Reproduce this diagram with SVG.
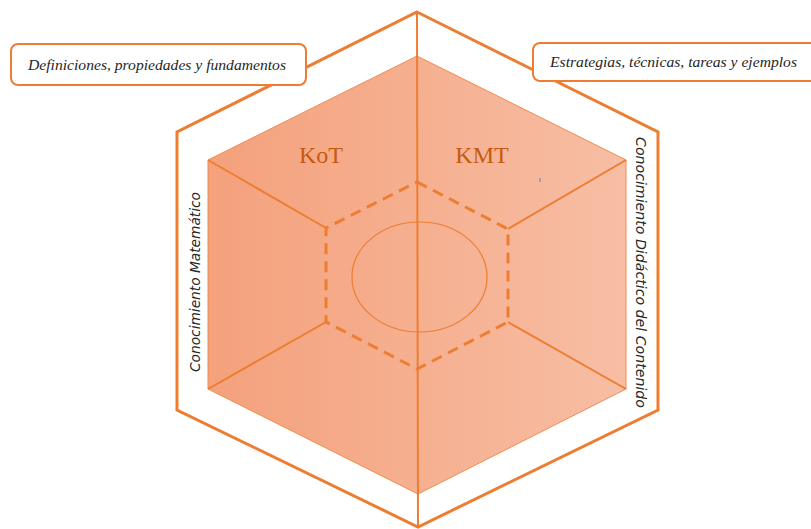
<svg xmlns="http://www.w3.org/2000/svg" width="811" height="529" viewBox="0 0 811 529">
<defs>
<linearGradient id="faceGrad" x1="0" y1="0" x2="1" y2="0">
<stop offset="0" stop-color="#F4A17C"/>
<stop offset="1" stop-color="#F7BEA4"/>
</linearGradient>
<linearGradient id="ellGrad" x1="0" y1="0" x2="0" y2="1">
<stop offset="0" stop-color="#F6B89B"/>
<stop offset="1" stop-color="#F4A07A"/>
</linearGradient>
<style>
.outer{fill:none;stroke:#ED7D31;stroke-width:3;stroke-linejoin:miter}
.edge{fill:none;stroke:#ED7D31;stroke-width:2}
.thin{fill:none;stroke:#ED7D31;stroke-width:1.2}
.dash{fill:none;stroke:#ED7D31;stroke-width:3;stroke-dasharray:11,7}
.box{fill:#FFFFFF;stroke:#ED7D31;stroke-width:2}
.lbl{font-family:"Liberation Serif","DejaVu Serif",serif;font-style:italic;font-size:15px;fill:#262626}
.side{font-family:"DejaVu Sans","Liberation Sans",sans-serif;font-style:italic;font-size:14px;fill:#262626}
.k{font-family:"Liberation Serif","Times New Roman",serif;font-size:24px;fill:#C55A11;text-anchor:middle}
</style>
</defs>
<g id="outer-hexagon">
<polygon class="outer" points="417,12 658,132 658,410 418,527 177,410 177,132"/>
</g>
<g id="inner-hexagon">
<polygon points="417,56 626,160 626,389 418,494 208,389 208,160" fill="url(#faceGrad)" stroke="#F08A50" stroke-width="1"/>
</g>
<g id="core">
<ellipse cx="419.5" cy="277" rx="67.5" ry="55" fill="url(#ellGrad)" class="thin"/>
</g>
<g id="connectors">
<line class="edge" x1="417" y1="12" x2="418" y2="528"/>
<line class="edge" x1="208" y1="160" x2="326" y2="228"/>
<line class="edge" x1="208" y1="389" x2="326" y2="322"/>
<line class="edge" x1="626" y1="160" x2="508" y2="229"/>
<line class="edge" x1="626" y1="389" x2="508" y2="322"/>
<line x1="540" y1="178" x2="540" y2="182" stroke="#6A7FB8" stroke-width="1"/>
</g>
<g id="dashed-hexagon">
<polygon class="dash" points="417,182 508,229 508,322 417,369 326,322 326,228"/>
</g>
<g id="KoT">
<text class="k" x="321" y="163">KoT</text>
</g>
<g id="KMT">
<text class="k" x="482" y="163">KMT</text>
</g>
<g id="label-definiciones">
<rect class="box" x="11" y="44" width="295" height="41" rx="7"/>
<text class="lbl" x="28" y="70" textLength="258" lengthAdjust="spacingAndGlyphs">Definiciones, propiedades y fundamentos</text>
</g>
<g id="label-estrategias">
<rect class="box" x="533" y="43" width="290" height="38" rx="7"/>
<text class="lbl" x="550" y="67" textLength="247" lengthAdjust="spacingAndGlyphs">Estrategias, técnicas, tareas y ejemplos</text>
</g>
<g id="label-matematico">
<text class="side" transform="translate(200,372) rotate(-90)" textLength="180" lengthAdjust="spacingAndGlyphs">Conocimiento Matemático</text>
</g>
<g id="label-didactico">
<text class="side" transform="translate(636,137) rotate(90)" textLength="271" lengthAdjust="spacingAndGlyphs">Conocimiento Didáctico del Contenido</text>
</g>
</svg>
